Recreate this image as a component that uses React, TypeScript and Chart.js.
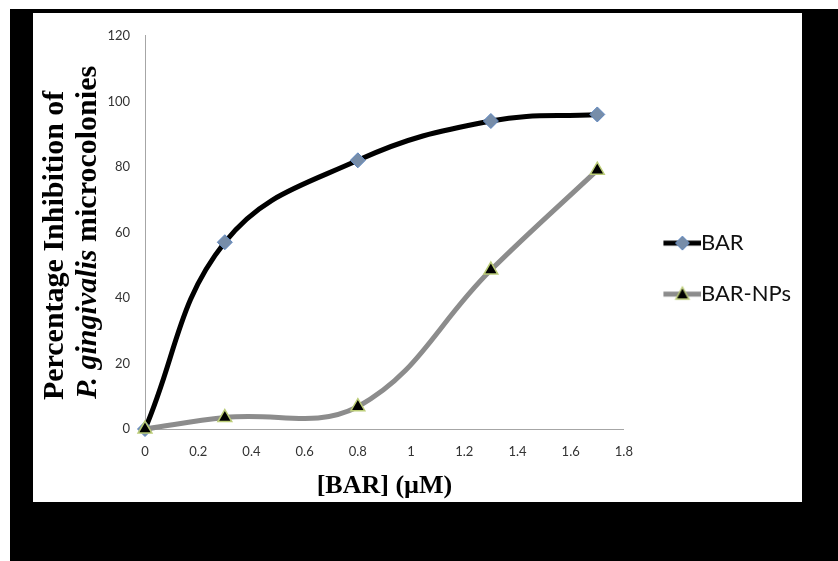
import React, { useEffect, useRef } from 'react';
import { Chart, registerables } from 'chart.js';

Chart.register(...registerables);

// ---- Data ----
const concentrations = [0, 0.3, 0.8, 1.3, 1.7];
const barValues = [0, 57, 82, 94, 96];
const barNpValues = [0, 3.5, 6.8, 48.5, 79];
const seriesNames = ['BAR', 'BAR-NPs'];
const xAxisTitle = '[BAR] (µM)';
const yTitleLine1 = 'Percentage Inhibition of';
const yTitleItalic = 'P. gingivalis';
const yTitleRest = ' microcolonies';
const xRange = [0, 1.8];
const xStep = 0.2;
const yRange = [0, 120];
const yStep = 20;

const PANEL_W = 769;
const PANEL_H = 489;

function makeLegendImage(kind: 'diamond' | 'triangle', lineColor: string): HTMLCanvasElement {
  const c = document.createElement('canvas');
  c.width = 60;
  c.height = 18;
  const g = c.getContext('2d')!;
  const cy = 9;
  g.strokeStyle = lineColor;
  g.lineWidth = 5;
  g.beginPath();
  g.moveTo(22, cy);
  g.lineTo(60, cy);
  g.stroke();
  const cx = 41;
  g.beginPath();
  if (kind === 'diamond') {
    g.moveTo(cx, cy - 7);
    g.lineTo(cx + 7, cy);
    g.lineTo(cx, cy + 7);
    g.lineTo(cx - 7, cy);
    g.closePath();
    g.fillStyle = '#778da9';
    g.fill();
    g.strokeStyle = '#5d86c0';
    g.lineWidth = 1;
    g.stroke();
  } else {
    g.moveTo(cx, cy - 7);
    g.lineTo(cx + 6.5, cy + 5);
    g.lineTo(cx - 6.5, cy + 5);
    g.closePath();
    g.fillStyle = '#000';
    g.fill();
    g.strokeStyle = '#bccd78';
    g.lineWidth = 1.5;
    g.stroke();
  }
  return c;
}

const yTitlePlugin = {
  id: 'yTitleMixed',
  afterDraw(chart: any) {
    const { ctx, chartArea } = chart;
    const midY = (chartArea.top + chartArea.bottom) / 2;
    ctx.save();
    ctx.fillStyle = '#000';
    ctx.textBaseline = 'middle';
    // line 1
    ctx.save();
    ctx.translate(chartArea.left - 90, midY + 13);
    ctx.rotate(-Math.PI / 2);
    ctx.font = 'bold 30px "Liberation Serif", "Times New Roman", serif';
    ctx.textAlign = 'center';
    ctx.fillText(yTitleLine1, 0, 0);
    ctx.restore();
    // line 2 (mixed italic)
    ctx.save();
    ctx.translate(chartArea.left - 57, midY);
    ctx.rotate(-Math.PI / 2);
    ctx.textAlign = 'left';
    const italicFont = 'italic bold 30px "Liberation Serif", "Times New Roman", serif';
    const boldFont = 'bold 30px "Liberation Serif", "Times New Roman", serif';
    ctx.font = italicFont;
    const w1 = ctx.measureText(yTitleItalic).width;
    ctx.font = boldFont;
    const w2 = ctx.measureText(yTitleRest).width;
    const start = -(w1 + w2) / 2;
    ctx.font = italicFont;
    ctx.fillText(yTitleItalic, start, 0);
    ctx.font = boldFont;
    ctx.fillText(yTitleRest, start + w1, 0);
    ctx.restore();
    ctx.restore();
  },
};

export default function App() {
  const canvasRef = useRef<HTMLCanvasElement | null>(null);

  useEffect(() => {
    if (!canvasRef.current) return;
    const legendImages = [
      makeLegendImage('diamond', '#000000'),
      makeLegendImage('triangle', '#8c8c8c'),
    ];
    const chart = new Chart(canvasRef.current, {
      type: 'line',
      data: {
        datasets: [
          {
            label: seriesNames[0],
            data: concentrations.map((x, i) => ({ x, y: barValues[i] })),
            borderColor: '#000000',
            borderWidth: 5,
            tension: 0.4,
            pointStyle: 'rectRot',
            pointRadius: 7.5,
            pointBackgroundColor: '#778da9',
            pointBorderColor: '#5d86c0',
            pointBorderWidth: 1,
            fill: false,
            clip: false,
            order: 1,
          },
          {
            label: seriesNames[1],
            data: concentrations.map((x, i) => ({ x, y: barNpValues[i] })),
            borderColor: '#8c8c8c',
            borderWidth: 5,
            tension: 0.4,
            pointStyle: 'triangle',
            pointRadius: 8,
            pointBackgroundColor: '#000000',
            pointBorderColor: '#bccd78',
            pointBorderWidth: 1.5,
            fill: false,
            clip: false,
            order: 0,
          },
        ],
      },
      options: {
        animation: false,
        responsive: false,
        maintainAspectRatio: false,
        layout: { padding: { top: 13, right: 1, bottom: 0, left: 0 } },
        scales: {
          x: {
            type: 'linear',
            min: xRange[0],
            max: xRange[1],
            grid: { display: false, drawTicks: false },
            border: { display: true, color: '#a6a6a6', width: 1 },
            ticks: {
              stepSize: xStep,
              padding: 15,
              color: '#333333',
              font: { family: 'Lato', size: 13 },
              callback: (v: any) => String(Number(Number(v).toFixed(1))),
            },
            title: {
              display: true,
              text: xAxisTitle,
              color: '#000',
              font: { family: '"Liberation Serif", "Times New Roman", serif', size: 26, weight: 'bold' },
              padding: { top: 0, bottom: 0 },
            },
            afterFit: (scale: any) => {
              scale.height = 73;
            },
          },
          y: {
            min: yRange[0],
            max: yRange[1],
            grid: { display: false, drawTicks: false },
            border: { display: true, color: '#a6a6a6', width: 1 },
            ticks: {
              stepSize: yStep,
              padding: 15,
              color: '#333333',
              font: { family: 'Lato', size: 13 },
            },
            afterFit: (scale: any) => {
              scale.width = 112;
            },
          },
        },
        plugins: {
          tooltip: { enabled: false },
          legend: {
            position: 'right',
            title: { display: true, text: ' ', font: { size: 6 }, padding: 1 },
            labels: {
              usePointStyle: true,
              pointStyleWidth: 37,
              boxHeight: 22,
              padding: 29,
              color: '#111111',
              font: { family: 'Lato', size: 22 },
              generateLabels: (ch: any) => {
                const items = Chart.defaults.plugins.legend.labels.generateLabels(ch);
                return items
                  .slice()
                  .sort((a: any, b: any) => a.datasetIndex - b.datasetIndex)
                  .map((it: any) => ({ ...it, pointStyle: legendImages[it.datasetIndex] }));
              },
            },
          },
        },
      },
      plugins: [yTitlePlugin],
    } as any);
    return () => chart.destroy();
  }, []);

  return (
    <div style={{ position: 'absolute', left: 0, top: 0, width: 838, height: 561, background: '#ffffff', overflow: 'hidden' }}>
      <div style={{ position: 'absolute', left: 10, top: 9, width: 828, height: 552, background: '#000000' }} />
      <div style={{ position: 'absolute', left: 33, top: 13, width: PANEL_W, height: PANEL_H, background: '#ffffff' }}>
        <canvas ref={canvasRef} width={PANEL_W} height={PANEL_H} style={{ display: 'block', width: PANEL_W, height: PANEL_H }} />
      </div>
    </div>
  );
}
